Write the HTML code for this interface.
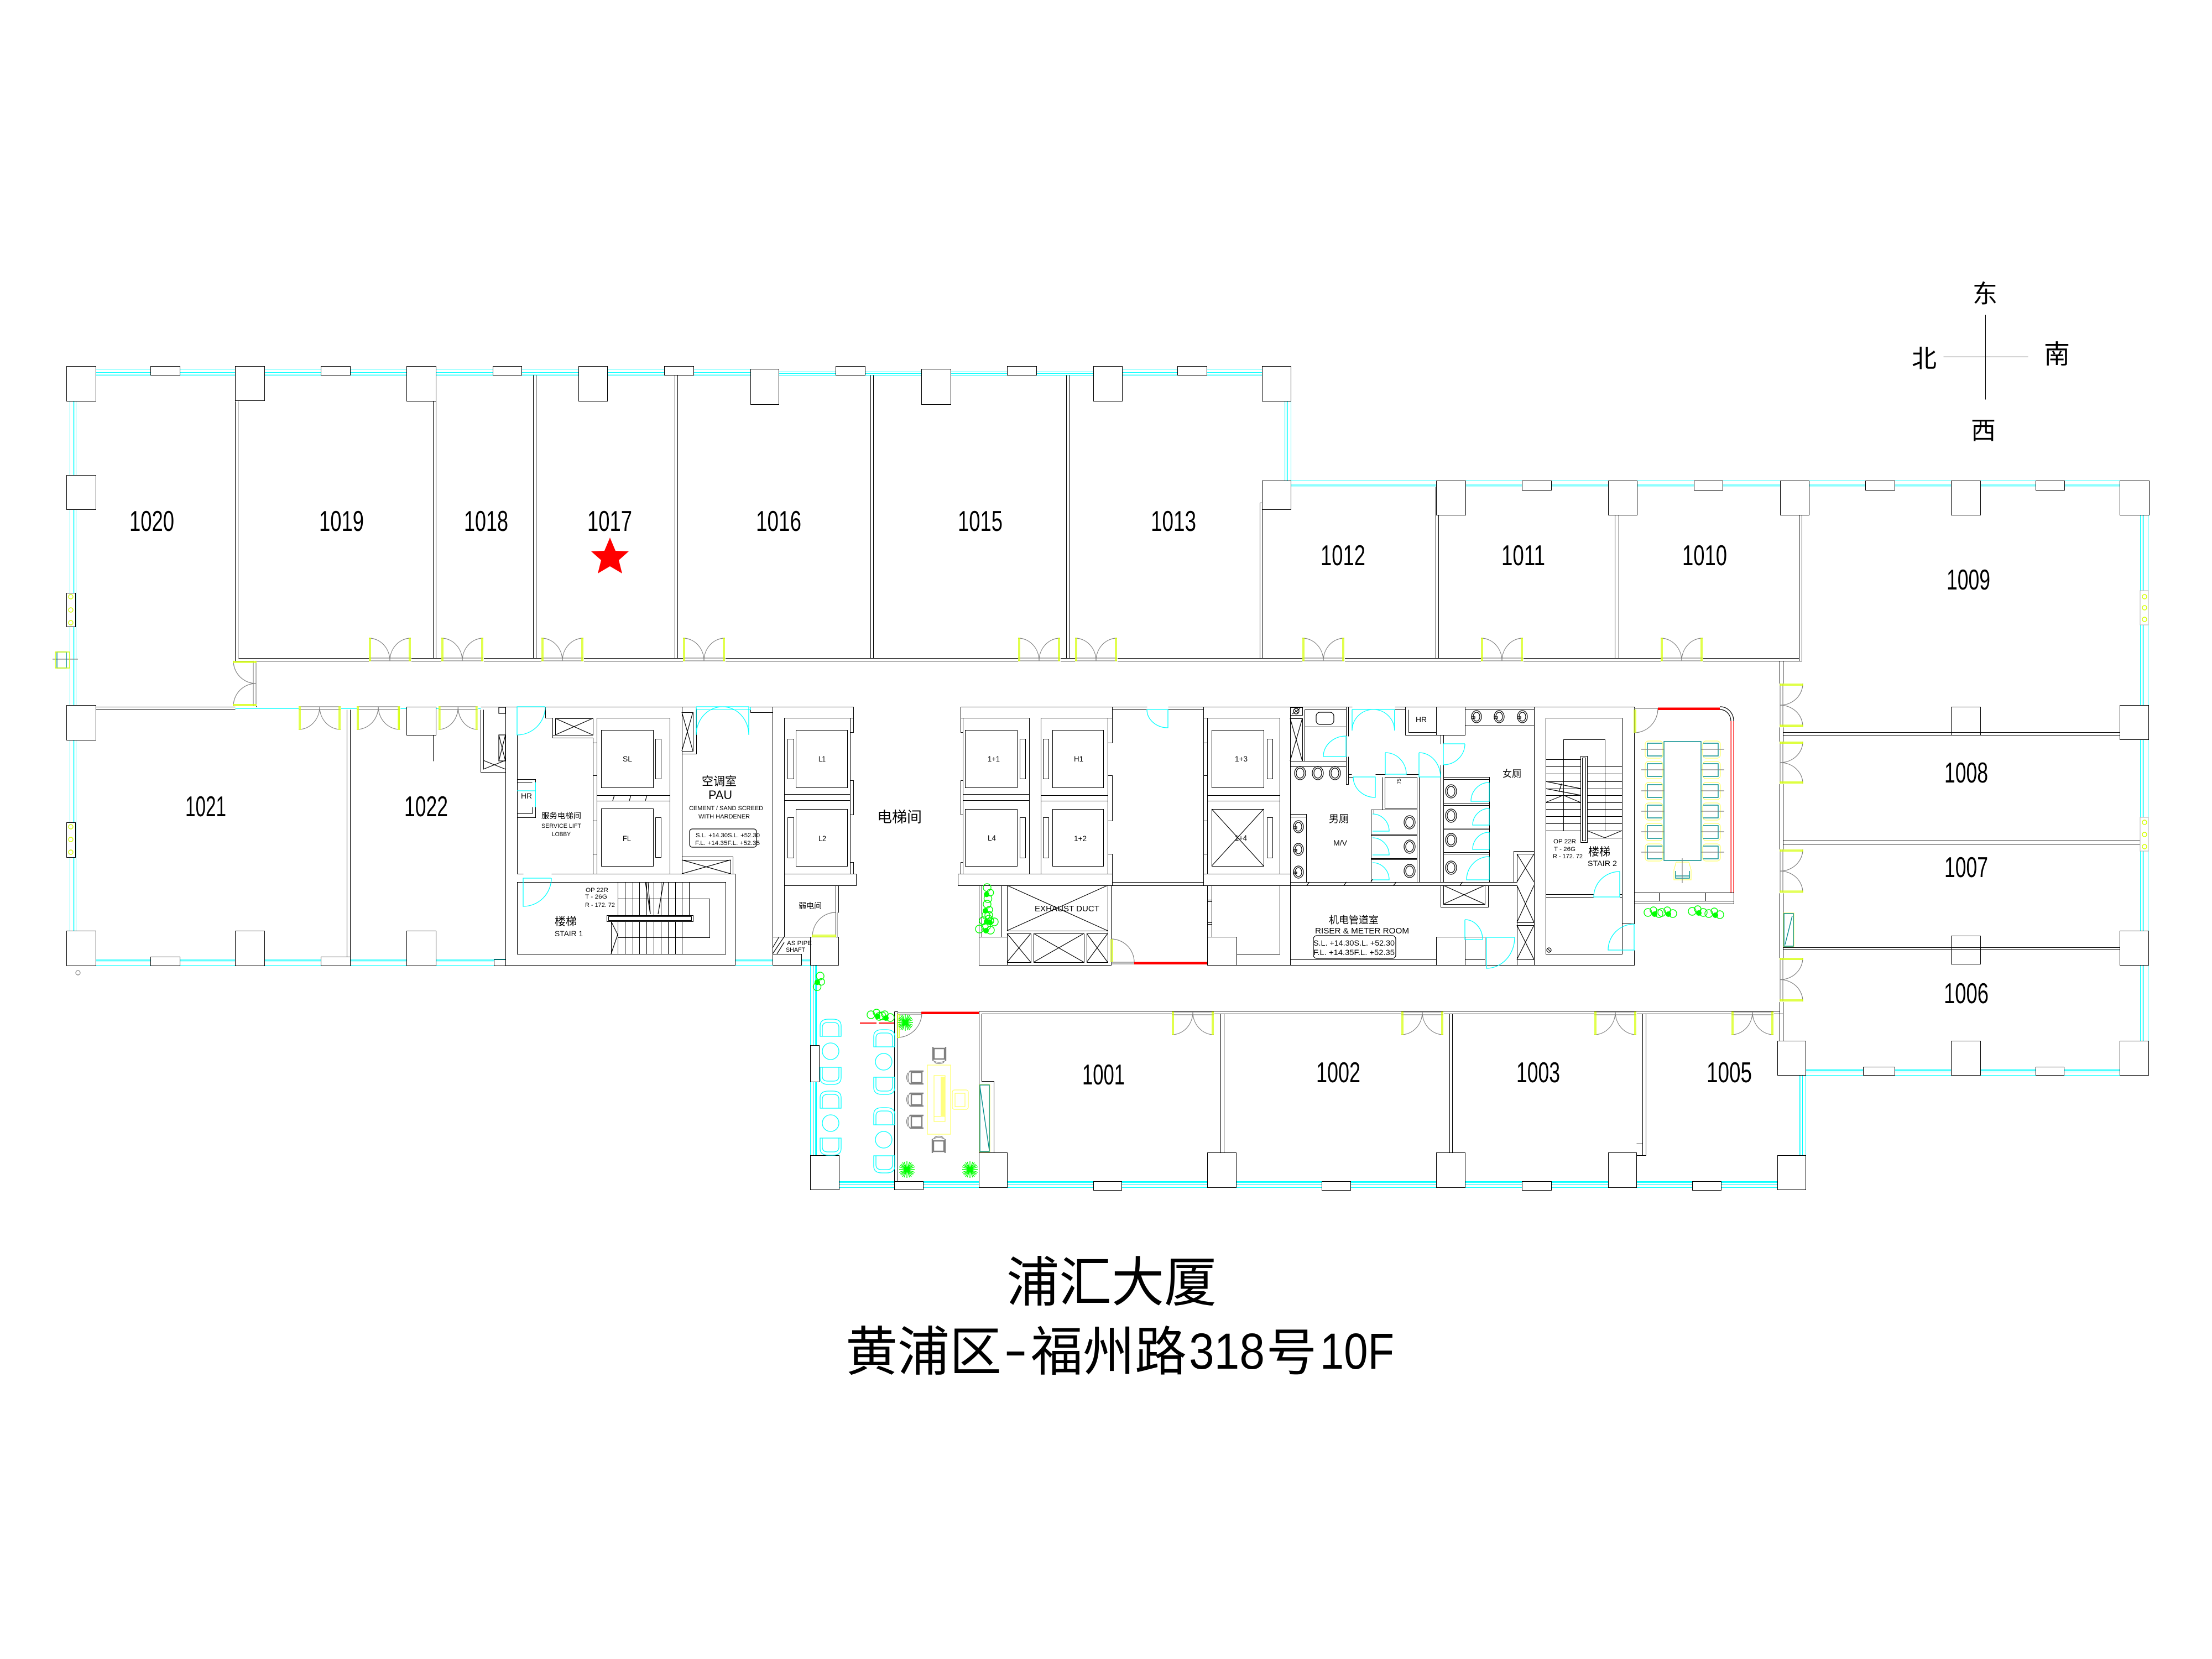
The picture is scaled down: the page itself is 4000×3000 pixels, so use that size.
<!DOCTYPE html>
<html lang="zh"><head><meta charset="utf-8"><title>浦汇大厦 10F</title>
<style>
html,body{margin:0;padding:0;background:#fff}
svg{display:block}
svg *{vector-effect:non-scaling-stroke}
.k{fill:none;stroke:#000;stroke-width:1;shape-rendering:crispEdges;transform:translate(.5px,.5px)}
.a{fill:none;stroke:#000;stroke-width:1.2}
.w{fill:#fff;stroke:#000;stroke-width:1;shape-rendering:crispEdges;transform:translate(.5px,.5px)}
.c{fill:none;stroke:#00ffff;stroke-width:1;shape-rendering:crispEdges;transform:translate(.5px,.5px)}
.ca{fill:none;stroke:#00ffff;stroke-width:1.3}
.g{fill:none;stroke:#808080;stroke-width:1.2}
.y{fill:none;stroke:#d4ff00;stroke-width:1.4}
.yy{fill:none;stroke:#ffff66;stroke-width:1.2}
.t{fill:none;stroke:#008b8b;stroke-width:1.4}
.r{fill:none;stroke:#ff0000;stroke-width:1.5;shape-rendering:crispEdges}
.p{fill:none;stroke:#00ff00;stroke-width:1.4}
text{font-family:"Liberation Sans","WenQuanYi Zen Hei","Noto Sans CJK SC",sans-serif;fill:#000;stroke:none}
.n{font-size:52px}
.cj{font-family:"WenQuanYi Zen Hei","Noto Sans CJK SC",sans-serif}
</style></head><body>
<svg xmlns="http://www.w3.org/2000/svg" width="4000" height="3000" viewBox="0 0 4000 3000">
<defs>
<g id="d"><rect x="0" y="-6" width="77" height="7" fill="#fff"/><path class="g" d="M0 0H76M0-5H76M0-41A38 41 0 0 1 38 0M76-41A38 41 0 0 0 38 0"/><path class="y" d="M1-41H3V0H1ZM73-41H75V0H73Z"/></g>
<g id="dc"><rect x="0" y="-3" width="77" height="4" fill="#fff"/><path class="ca" d="M0 0H76M0 0V-41A38 41 0 0 0 38 0M76 0V-41A38 41 0 0 1 38 0"/></g>
<g id="ch"><path class="ca" d="M0 31V12Q0 0 15 0H23Q38 0 38 12V31ZM4 31V15Q4 6 14 6H24Q34 6 34 15V31"/></g>
<g id="gc"><path fill="none" stroke="#808080" stroke-width="2.4" d="M5 6H24V25H5ZM2 4H27M2 27H27"/><path class="g" d="M2 4Q-4 15 2 27M-1 7Q-6 15-1 24"/></g>
<g id="mc"><rect class="yy" x="0" y="0" width="32" height="31" rx="6"/><path class="t" d="M31 4H4V27H31"/><path class="g" d="M-7 15H35"/></g>
<g id="to"><ellipse class="a" cx="0" cy="0" rx="10" ry="12"/><ellipse class="a" cx="0" cy="0" rx="7" ry="9"/></g>
<g id="si"><ellipse class="a" cx="0" cy="0" rx="9" ry="11"/><ellipse class="a" cx="0" cy="0" rx="6" ry="8"/><path class="a" d="M-9 0H-3V3H-9Z"/></g>
<g id="sp"><path class="p" d="M-14 0H14M0-15V15M-10-10L10 10M-10 10L10-10M-14-5L14 5M-14 5L14-5M-5-14L5 14M5-14L-5 14M-12-8L12 8M-12 8L12-8M-8-13L8 13M8-13L-8 13"/><circle cx="0" cy="0" r="5" fill="#00ff00"/></g>
<g id="pc"><circle class="p" cx="0" cy="0" r="7"/><circle class="p" cx="10" cy="-4" r="6"/><circle class="p" cx="20" cy="2" r="7"/><circle cx="12" cy="3" r="5" fill="#00ff00"/></g>
</defs>

<!-- glass -->
<path class="c" d="M120 667H1357M120 673H1357M120 676H1357M120 678H1357M1408 672H1977M1408 675H1977M1408 678H1977M1977 667H2334M1977 673H2334M1977 676H2334M1977 678H2334
M126 725V1683M132 725V1683M135 725V1683M137 725V1683
M2323 725V869M2325 725V869M2328 725V869M2334 725V869
M2334 869H3833M2334 875H3833M2334 878H3833M2334 880H3833
M3870 931V1882M3873 931V1882M3876 931V1882M3884 931V1882
M3265 1933H3833M3265 1935H3833M3265 1938H3833M3265 1944H3833
M3254 1944V2089M3256 1944V2089M3259 1944V2089M3265 1944V2089
M1517 2136H3214M1517 2138H3214M1517 2141H3214M1517 2147H3214
M1465 1745V2089M1471 1745V2089M1474 1745V2089M1476 1745V2089
M173 1734H914M173 1736H914M173 1739H914M173 1745H914M1329 1734H1397M1329 1736H1397M1329 1739H1397M1329 1745H1397M1449 1734H1465M1449 1736H1465M1449 1739H1465M1449 1745H1465
M425 1281H735M788 1281H869M1072 1343H1079V1402H1072ZM1072 1484H1079V1544H1072ZM874 1290V1375"/>

<!-- columns and window piers -->
<path class="w" d="M120 662h53v63h-53zM425 662h53v62h-53zM735 662h53v63h-53zM1046 662h52v63h-52zM1357 667h51v64h-51zM1666 667h53v64h-53zM1977 662h52v63h-52zM2282 662h52v63h-52z
M272 662h53v16h-53zM580 662h53v16h-53zM891 662h52v16h-52zM1201 662h53v16h-53zM1511 662h53v16h-53zM1821 662h53v16h-53zM2129 662h53v16h-53z
M120 859h53v62h-53zM120 1275h53v63h-53zM120 1683h53v63h-53zM425 1683h53v63h-53zM735 1683h53v63h-53zM735 1278h53v51h-53z
M272 1730h53v16h-53zM580 1730h53v16h-53zM893 1735h21v11h-21z
M120 1072h16v61h-16zM120 1487h16v63h-16z
M2282 869h52v52h-52zM2597 869h53v62h-53zM2908 869h52v62h-52zM3219 869h52v62h-52zM3528 869h53v62h-53zM3833 869h53v62h-53z
M2752 869h53v17h-53zM3063 869h52v17h-52zM3373 869h53v17h-53zM3681 869h52v17h-52z
M3833 1275h52v62h-52zM3528 1278h53v51h-53zM3833 1683h52v62h-52zM3528 1692h53v51h-53z
M3214 1882h51v62h-51zM3528 1882h53v62h-53zM3833 1882h52v62h-52zM3369 1929h57v15h-57zM3681 1929h51v15h-51z
M3214 2089h51v62h-51zM3060 2136h52v16h-52zM2908 2084h51v63h-51zM2752 2136h53v16h-53zM2597 2084h52v63h-52zM2390 2136h52v16h-52zM2183 2084h52v63h-52zM1977 2136h51v16h-51zM1770 2084h51v63h-51zM1617 2136h52v15h-52zM1465 2089h52v62h-52zM1465 1890h16v66h-16z"/>

<!-- walls -->
<path class="k" d="M431 1190H3253M425 1195H3258
M425 725V1195M430 725V1190M783 725V1190M788 725V1190M964 678V1190M969 678V1190M1220 678V1190M1225 678V1190M1574 678V1190M1579 678V1190M1928 678V1190M1934 678V1190M2278 909V1190M2283 921V1190M2278 909H2282M2596 880V1190M2601 931V1190M2920 931V1190M2927 931V1190M3253 931V1195M3258 931V1195
M463 1195V1278M173 1278H425M173 1283H425M627 1283V1730M633 1283V1730M783 1329V1376
M3218 1195V1882M3224 1195V1882M3224 1324H3833M3224 1329H3833M3224 1520H3871M3224 1526H3871M3224 1713H3833M3224 1717H3833
M1770 1828H3218M1775 1833H3224M1770 1828V2084M1775 1833V1955H1797V2084M2207 1833V2084M2213 1833V2084M2621 1833V2084M2626 1833V2084M2970 1833V2089M2976 1833V2089H2959M2959 2068H2970
M1617 1829V2136M1623 1829V2136M1617 1829H1623
M869 1283V1396H914M874 1283V1391M869 1278H914
M914 1278H1543V1298H1537M914 1278V1745M914 1745H1329V1580H997M935 1329V1580H946M986 1278V1298H999V1334H1072V1580M1004 1299H1072V1329H1004ZM999 1329H1004
M1233 1278V1580M1397 1278V1745M1357 1278V1288H1397M1233 1288H1253V1358H1233M1233 1363H1259V1278M1233 1549H1325V1580M1233 1555H1321V1580
M935 1595H1312V1725H935ZM1117 1625H1283V1695H1117M935 1409H968V1414M935 1414H962M968 1440V1409M968 1459V1478H935M935 1471H962V1459
M1079 1298H1211V1580H1079ZM1079 1438H1211M1079 1448H1211M1087 1320h94v104h-94zM1185 1336h10v72h-10zM1087 1462h94v104h-94zM1185 1478h10v72h-10z
M1072 1343H1079M1072 1402H1079M1072 1484H1079M1072 1544H1079
M1418 1298H1537V1580H1418ZM1418 1436H1537M1418 1447H1537M1439 1320h93v104h-93zM1424 1336h11v72h-11zM1439 1463h93v103h-93zM1424 1478h11v73h-11zM1537 1298h6v26h-6zM1537 1411h6v62h-6zM1537 1559h6v21h-6zM1418 1580h130v21h-130z
M1418 1601V1694H1465M1397 1694H1465M1511 1601V1650M1516 1601V1650M1397 1725H1449V1745H1397M1465 1694h51v51h-51z
M1737 1278H2074M2112 1278H2333M2011 1283H2074M2112 1283H2176M1737 1278V1298H1741M2011 1278V1298
M1741 1298h120v282h-120zM1741 1436H1861M1741 1447H1861M1745 1320h94v104h-94zM1844 1336h10v72h-10zM1745 1463h94v103h-94zM1844 1478h10v73h-10z
M1882 1298h121v282h-121zM1882 1438H2003M1882 1448H2003M1903 1320h92v104h-92zM1886 1336h10v72h-10zM1903 1463h92v103h-92zM1886 1478h10v73h-10z
M2003 1298h8v45h-8zM2003 1402h8v82h-8zM2003 1544h8v36h-8zM1737 1298h4v26h-4zM1737 1411h4v62h-4zM1737 1559h4v21h-4z
M1732 1580h279v21h-279zM2011 1595H2176M2011 1601H2176
M2176 1278V1601M2176 1298h7v45h-7zM2176 1402h7v82h-7zM2176 1544h7v36h-7zM2183 1298h131v282h-131zM2183 1438H2314M2183 1448H2314M2191 1320h94v104h-94zM2291 1336h10v72h-10zM2191 1463h94v103h-94zM2291 1478h10v73h-10zM2176 1580H2333M2176 1601H2333M2333 1278V1745
M1770 1601V1745H2009V1601M1775 1601V1694M1811 1601V1694M1770 1694h51v51h-51zM1821 1601h182v82h-182zM1821 1688h43v52h-43zM1869 1688h91v52h-91zM1965 1688h38v52h-38zM2003 1601V1740
M2183 1601V1694M2191 1601V1694M2183 1627H2191M2183 1630H2191M2183 1668H2191M2183 1671H2191M2183 1694h53v51h-53zM2236 1725H2314V1601H2191M2236 1745H2774
M2333 1293H2355V1279H2333M2333 1299H2355V1376H2333M2359 1283H2434V1376H2359ZM2359 1314H2434M2333 1376H2434M2333 1386H2434M2434 1278V1331M2438 1278V1331M2434 1368V1418H2438V1368
M2333 1278H2445M2522 1278H2597M2649 1278H2774M2522 1283H2541M2649 1283H2774M2541 1278V1329H2597M2547 1283V1324H2597M2597 1278h52v51h-52zM2605 1329V1345M2610 1329V1345M2605 1383V1405M2610 1383V1405M2649 1312H2774M2774 1278V1745
M2438 1405H2447M2487 1400H2505M2438 1400H2444M2543 1400H2566M2504 1405H2562V1461H2504ZM2499 1405V1464H2479V1595M2562 1405V1595M2566 1405V1595M2605 1405V1595M2610 1405V1595
M2484 1464V1472M2479 1464H2562M2479 1508H2562M2479 1510H2562M2479 1552H2562M2479 1554H2562
M2610 1405H2693V1595M2610 1409H2693M2610 1453H2693M2610 1456H2693M2610 1497H2693M2610 1500H2693M2610 1541H2693M2610 1544H2693
M2333 1472H2362V1595M2333 1477H2362M2333 1595H2743M2333 1601H2743
M2605 1601V1640H2691V1601M2610 1601H2685V1635H2610Z
M2333 1735H2597M2597 1694h52v51h-52zM2649 1735H2685V1694M2649 1694H2685V1745H2597
M2737 1595V1539H2774M2743 1595V1544H2774M2743 1601V1745M2743 1668H2774M2743 1673H2774M2743 1735H2774
M2774 1278H2955V1670H2933M2774 1745H2955V1718M2795 1298h138v427h-138zM2795 1617H2882M2795 1622H2882M2929 1617H2933M2929 1622H2933
M2795 1373H2858M2795 1386H2858M2795 1399H2858M2795 1413H2858M2795 1426H2858M2795 1438H2858M2795 1451H2858M2795 1463H2858M2795 1476H2858M2795 1489H2858M2795 1502H2858
M2870 1386H2933M2870 1399H2933M2870 1413H2933M2870 1426H2933M2870 1438H2933M2870 1451H2933M2870 1463H2933M2870 1476H2933M2870 1489H2933M2870 1502H2933M2870 1515H2933
M2858 1367h12v156h-12zM2861 1370h6v150h-6zM2827 1502V1337H2902V1502
M2955 1614H3135V1634H2955ZM2955 1629H3135M3000 1614V1629M3084 1614V1629
M1097 1655h156v11h-156zM1100 1657h150v7h-150z
M1117 1595V1655M1130 1595V1655M1144 1595V1655M1156 1595V1655M1169 1595V1655M1182 1595V1655M1195 1595V1655M1208 1595V1655M1221 1595V1655M1233 1595V1655M1246 1595V1655
M1117 1666V1725M1130 1666V1725M1144 1666V1725M1156 1666V1725M1169 1666V1725M1182 1666V1725M1195 1666V1725M1208 1666V1725M1221 1666V1725M1233 1666V1725M1105 1666V1725"/>
<rect class="a" x="1247" y="1499" width="121" height="33" rx="5"/>
<rect class="a" x="2375" y="1692" width="149" height="41" rx="6"/>
<rect class="a" x="2380" y="1288" width="32" height="22" rx="7"/>
<!-- crosses, hatches -->
<path class="a" d="M1004 1299L1072 1329M1004 1329L1072 1299M902 1279h12v11h-12zM902 1329h12v47h-12zM902 1329L914 1376M914 1329L902 1376M874 1375L914 1391M874 1391L914 1375
M1233 1288L1253 1358M1253 1288L1233 1358M1233 1555L1321 1580M1321 1555L1233 1580
M2191 1463L2285 1566M2285 1463L2191 1566
M1821 1601L2003 1683M2003 1601L1821 1683M1821 1688L1864 1740M1864 1688L1821 1740M1869 1688L1960 1740M1960 1688L1869 1740M1965 1688L2003 1740M2003 1688L1965 1740
M2333 1299L2355 1376M2355 1299L2333 1376M2337 1291L2351 1281M2610 1601L2685 1635M2685 1601L2610 1635
M2743 1544L2774 1595M2774 1544L2743 1595M2743 1601L2774 1668M2774 1601L2743 1668M2743 1673L2774 1735M2774 1673L2743 1735
M1111 1438L1108 1448M1141 1438L1138 1448M1170 1438L1167 1448M1397 1714L1409 1694M1397 1725L1418 1694M1405 1725L1418 1704M1167 1595L1176 1653M1190 1653L1200 1595M1176 1653L1172 1595M1105 1666L1117 1690L1105 1725
M2795 1413L2858 1426M2795 1426L2858 1438M2795 1451L2827 1438L2858 1451M2870 1502L2902 1515L2933 1502M2824 1417L2819 1432
M2479 1595L2482 1590M2363 1601L2368 1595M2430 1601L2435 1595M2520 1601L2525 1595M2640 1601L2645 1595"/>
<circle class="a" cx="2344" cy="1286" r="5"/><circle class="a" cx="2801" cy="1718" r="4"/><path class="a" d="M2341 1283L2347 1289M2798 1715L2804 1721"/>
<circle class="g" cx="141" cy="1759" r="4"/>

<!-- outside fitting, small window fittings -->
<path class="g" d="M95 1192H141"/><rect class="t" x="103" y="1179" width="17" height="29"/><rect class="y" x="100" y="1179" width="26" height="29"/>
<g class="y"><circle cx="128" cy="1079" r="4"/><circle cx="128" cy="1103" r="4"/><circle cx="128" cy="1126" r="4"/><circle cx="128" cy="1495" r="4"/><circle cx="128" cy="1518" r="4"/><circle cx="128" cy="1541" r="4"/></g>
<rect x="3870" y="1068" width="15" height="62" fill="#fff" stroke="#b0b0b0"/><rect x="3870" y="1478" width="15" height="61" fill="#fff" stroke="#b0b0b0"/>
<g class="y"><circle cx="3878" cy="1079" r="4"/><circle cx="3878" cy="1099" r="4"/><circle cx="3878" cy="1120" r="4"/><circle cx="3878" cy="1487" r="4"/><circle cx="3878" cy="1509" r="4"/><circle cx="3878" cy="1531" r="4"/></g>

<!-- double doors -->
<use href="#d" transform="translate(667,1195)"/><use href="#d" transform="translate(798,1195)"/><use href="#d" transform="translate(979,1195)"/><use href="#d" transform="translate(1235,1195)"/><use href="#d" transform="translate(1841,1195)"/><use href="#d" transform="translate(1944,1195)"/><use href="#d" transform="translate(2355,1195)"/><use href="#d" transform="translate(2678,1195)"/><use href="#d" transform="translate(3003,1195)"/>
<use href="#d" transform="translate(540,1278) scale(1,-1)"/><use href="#d" transform="translate(645,1278) scale(1.03,-1)"/><use href="#d" transform="translate(793,1278) scale(.93,-1)"/>
<use href="#d" transform="translate(463,1277) rotate(-90) scale(1.08,1)"/>
<use href="#d" transform="translate(3219,1236) rotate(90) scale(1.03,1)"/><use href="#d" transform="translate(3219,1341) rotate(90)"/><use href="#d" transform="translate(3219,1536) rotate(90) scale(1.03,1)"/><use href="#d" transform="translate(3219,1732) rotate(90) scale(1.04,1)"/>
<use href="#d" transform="translate(2119,1830) scale(1,-1)"/><use href="#d" transform="translate(2534,1830) scale(1,-1)"/><use href="#d" transform="translate(2883,1830) scale(1,-1)"/><use href="#d" transform="translate(3131,1830) scale(1,-1)"/>
<use href="#dc" transform="translate(1259,1278) scale(1.25,-1.24)"/><use href="#dc" transform="translate(2445,1283) scale(1.01,-.93)"/>
<path class="c" d="M1259 1283H1357V1278"/>

<!-- single doors -->
<path class="ca" d="M986 1278H935V1329A51 51 0 0 0 986 1278M997 1588H946V1639A51 51 0 0 0 997 1588
M2074 1283H2112V1316A38 33 0 0 1 2074 1283M2434 1331V1368H2393A41 37 0 0 1 2434 1331M2447 1405H2487V1442A40 37 0 0 1 2447 1405M2505 1361V1400H2543A38 39 0 0 0 2505 1361M2566 1361V1405H2605A39 44 0 0 0 2566 1361M2649 1345H2610V1383A39 38 0 0 0 2649 1345
M2482 1503H2512A30 31 0 0 0 2482 1472M2482 1546H2512A30 31 0 0 0 2482 1515M2482 1591H2512A30 31 0 0 0 2482 1560
M2693 1415V1449H2660A33 34 0 0 1 2693 1415M2693 1462V1492H2663A30 30 0 0 1 2693 1462M2693 1505V1536H2663A30 31 0 0 1 2693 1505M2693 1549V1591H2652A41 42 0 0 1 2693 1549
M2649 1663V1699H2681A32 36 0 0 0 2649 1663M2739 1695H2688V1751A51 56 0 0 0 2739 1695M2929 1576V1622H2882A47 46 0 0 1 2929 1576M2955 1671V1718H2908A47 47 0 0 1 2955 1671
M935 1430H968"/>
<path class="c" d="M968 1414V1459"/>
<path class="g" d="M2955 1281H2998M2955 1325A43 44 0 0 0 2998 1281M2009 1698A42 42 0 0 1 2051 1740M2009 1740H2051M2009 1743H2051M1469 1694A42 44 0 0 1 1511 1650M1511 1650V1694M1514 1650V1694M1623 1831H1667M1623 1834H1667M1623 1876A44 45 0 0 0 1667 1831"/>
<path class="y" d="M2955 1283V1325M2958 1283V1325M2009 1698V1740M2012 1698V1740M1469 1691H1511V1694H1469ZM1623 1834H1626V1876H1623Z"/>
<!-- red -->
<path class="r" d="M2051 1740H2183M2051 1743H2183M2998 1280H3110M2998 1283H3110M3130 1304V1614M3135 1304V1614M1666 1830H1770M1666 1833H1770"/>
<path class="r" style="stroke-width:2" d="M1555 1850H1585M1589 1850H1617M1666 1831.5H1770M2051 1741.5H2183M2998 1281.5H3110"/>
<path class="a" d="M3110 1278A24 26 0 0 1 3135 1304M3110 1283A20 21 0 0 1 3130 1304"/>

<!-- reception furniture -->
<use href="#ch" x="1483" y="1843"/><use href="#ch" x="1580" y="1862"/>
<use href="#ch" transform="translate(1483,1961) scale(1,-1)"/><use href="#ch" x="1483" y="1973"/><use href="#ch" transform="translate(1483,2089) scale(1,-1)"/>
<use href="#ch" transform="translate(1580,1979) scale(1,-1)"/><use href="#ch" x="1580" y="2003"/><use href="#ch" transform="translate(1580,2121) scale(1,-1)"/>
<g class="ca"><circle cx="1502" cy="1901" r="15"/><circle cx="1502" cy="2031" r="15"/><circle cx="1598" cy="1920" r="15"/><circle cx="1598" cy="2061" r="15"/></g>
<rect class="yy" x="1677" y="1926" width="42" height="125"/><rect class="yy" x="1689" y="1945" width="20" height="83"/><rect x="1701" y="1947" width="8" height="71" fill="#ffff80"/><path class="yy" d="M1689 2019H1709"/>
<use href="#gc" x="1643" y="1933"/><use href="#gc" x="1643" y="1973"/><use href="#gc" x="1643" y="2013"/>
<use href="#gc" transform="translate(1683,1920) rotate(-90)"/><use href="#gc" transform="translate(1713,2058) rotate(90)"/>
<rect class="yy" x="1722" y="1971" width="29" height="35" rx="4"/><rect class="yy" x="1727" y="1977" width="18" height="24"/>
<rect class="yy" x="1771" y="1961" width="19" height="122"/><rect class="t" x="1772" y="1962" width="17" height="120"/><path class="t" d="M1772 1965L1789 2080"/>
<rect class="yy" x="3225" y="1651" width="19" height="61"/><rect class="t" x="3226" y="1652" width="17" height="59"/><path class="t" d="M3228 1708L3241 1656"/>

<!-- meeting room -->
<rect class="t" x="3009" y="1341" width="67" height="215"/>
<use href="#mc" x="2975" y="1340"/><use href="#mc" x="2975" y="1377"/><use href="#mc" x="2975" y="1415"/><use href="#mc" x="2975" y="1452"/><use href="#mc" x="2975" y="1489"/><use href="#mc" x="2975" y="1526"/>
<use href="#mc" transform="translate(3111,1340) scale(-1,1)"/><use href="#mc" transform="translate(3111,1377) scale(-1,1)"/><use href="#mc" transform="translate(3111,1415) scale(-1,1)"/><use href="#mc" transform="translate(3111,1452) scale(-1,1)"/><use href="#mc" transform="translate(3111,1489) scale(-1,1)"/><use href="#mc" transform="translate(3111,1526) scale(-1,1)"/>
<path class="yy" d="M3031 1559H3054L3058 1573V1591H3027V1573Z"/><path class="t" d="M3030 1575V1588H3055V1575M3030 1584H3055"/><path class="g" d="M3042 1552V1597"/>

<!-- fixtures -->
<use href="#to" x="2351" y="1398"/><use href="#to" x="2383" y="1398"/><use href="#to" x="2414" y="1398"/>
<use href="#to" x="2549" y="1487"/><use href="#to" x="2549" y="1531"/><use href="#to" x="2549" y="1575"/>
<use href="#to" x="2624" y="1431"/><use href="#to" x="2624" y="1475"/><use href="#to" x="2624" y="1519"/><use href="#to" x="2624" y="1569"/>
<use href="#si" x="2348" y="1495"/><use href="#si" x="2348" y="1536"/><use href="#si" x="2348" y="1577"/>
<use href="#si" x="2670" y="1296"/><use href="#si" x="2711" y="1296"/><use href="#si" x="2753" y="1296"/>

<!-- plants -->
<use href="#sp" x="1637" y="1849"/><use href="#sp" x="1640" y="2115"/><use href="#sp" x="1754" y="2115"/>
<use href="#pc" x="1575" y="1835"/><use href="#pc" x="1590" y="1838"/>
<use href="#pc" transform="translate(1483,1765) rotate(100)"/>
<use href="#pc" transform="translate(1785,1605) rotate(80)"/><use href="#pc" transform="translate(1785,1635) rotate(90)"/><use href="#pc" transform="translate(1788,1655) rotate(95)"/><use href="#pc" x="1771" y="1680"/><use href="#pc" x="1778" y="1665"/>
<use href="#pc" x="2980" y="1650"/><use href="#pc" x="3005" y="1650"/><use href="#pc" x="3060" y="1648"/><use href="#pc" x="3090" y="1652"/>

<!-- star -->
<polygon points="1103,972 1113,996 1137,997 1119,1013 1125,1037 1103,1024 1081,1037 1087,1013 1069,997 1093,996" fill="#ff0000"/>

<!-- compass -->
<path class="k" d="M3590 569V722M3514 645H3667"/>
<text class="cj" x="3567" y="547" font-size="45">东</text>
<text class="cj" x="3696" y="657" font-size="47">南</text>
<text class="cj" x="3457" y="664" font-size="45">北</text>
<text class="cj" x="3564" y="794" font-size="45">西</text>

<!-- room numbers -->
<text class="n" x="234" y="960" textLength="81" lengthAdjust="spacingAndGlyphs">1020</text>
<text class="n" x="577" y="960" textLength="81" lengthAdjust="spacingAndGlyphs">1019</text>
<text class="n" x="839" y="960" textLength="80" lengthAdjust="spacingAndGlyphs">1018</text>
<text class="n" x="1062" y="960" textLength="81" lengthAdjust="spacingAndGlyphs">1017</text>
<text class="n" x="1367" y="960" textLength="82" lengthAdjust="spacingAndGlyphs">1016</text>
<text class="n" x="1732" y="960" textLength="81" lengthAdjust="spacingAndGlyphs">1015</text>
<text class="n" x="2081" y="960" textLength="82" lengthAdjust="spacingAndGlyphs">1013</text>
<text class="n" x="2388" y="1022" textLength="81" lengthAdjust="spacingAndGlyphs">1012</text>
<text class="n" x="2715" y="1022" textLength="79" lengthAdjust="spacingAndGlyphs">1011</text>
<text class="n" x="3042" y="1022" textLength="81" lengthAdjust="spacingAndGlyphs">1010</text>
<text class="n" x="3520" y="1066" textLength="79" lengthAdjust="spacingAndGlyphs">1009</text>
<text class="n" x="3516" y="1415" textLength="79" lengthAdjust="spacingAndGlyphs">1008</text>
<text class="n" x="3516" y="1586" textLength="79" lengthAdjust="spacingAndGlyphs">1007</text>
<text class="n" x="3515" y="1814" textLength="81" lengthAdjust="spacingAndGlyphs">1006</text>
<text class="n" x="3086" y="1957" textLength="82" lengthAdjust="spacingAndGlyphs">1005</text>
<text class="n" x="2742" y="1957" textLength="79" lengthAdjust="spacingAndGlyphs">1003</text>
<text class="n" x="2380" y="1957" textLength="80" lengthAdjust="spacingAndGlyphs">1002</text>
<text class="n" x="1957" y="1961" textLength="77" lengthAdjust="spacingAndGlyphs">1001</text>
<text class="n" x="335" y="1476" textLength="74" lengthAdjust="spacingAndGlyphs">1021</text>
<text class="n" x="731" y="1476" textLength="79" lengthAdjust="spacingAndGlyphs">1022</text>

<!-- small labels -->
<g font-size="14">
<text x="1126" y="1377" textLength="17" lengthAdjust="spacingAndGlyphs">SL</text>
<text x="1126" y="1521" textLength="15" lengthAdjust="spacingAndGlyphs">FL</text>
<text x="1480" y="1377" textLength="13" lengthAdjust="spacingAndGlyphs">L1</text>
<text x="1480" y="1521" textLength="14" lengthAdjust="spacingAndGlyphs">L2</text>
<text x="942" y="1444" textLength="20" lengthAdjust="spacingAndGlyphs">HR</text>
<text x="1786" y="1377" textLength="22" lengthAdjust="spacingAndGlyphs">1+1</text>
<text x="1942" y="1377" textLength="17" lengthAdjust="spacingAndGlyphs">H1</text>
<text x="2233" y="1377" textLength="23" lengthAdjust="spacingAndGlyphs">1+3</text>
<text x="1786" y="1520" textLength="15" lengthAdjust="spacingAndGlyphs">L4</text>
<text x="1942" y="1521" textLength="23" lengthAdjust="spacingAndGlyphs">1+2</text>
<text x="2233" y="1520" textLength="22" lengthAdjust="spacingAndGlyphs">1+4</text>
<text x="2560" y="1306" textLength="20" lengthAdjust="spacingAndGlyphs">HR</text>
<text x="2411" y="1529" textLength="25" lengthAdjust="spacingAndGlyphs">M/V</text>
<text x="1003" y="1693" textLength="51" lengthAdjust="spacingAndGlyphs">STAIR 1</text>
<text x="2871" y="1566" textLength="53" lengthAdjust="spacingAndGlyphs">STAIR 2</text>
<text x="1871" y="1648" font-size="15" textLength="117" lengthAdjust="spacingAndGlyphs">EXHAUST  DUCT</text>
<text x="2378" y="1688" font-size="15" textLength="170" lengthAdjust="spacingAndGlyphs">RISER &amp; METER ROOM</text>
<text x="2375" y="1710" textLength="147" lengthAdjust="spacingAndGlyphs">S.L. +14.30S.L. +52.30</text>
<text x="2375" y="1727" textLength="147" lengthAdjust="spacingAndGlyphs">F.L. +14.35F.L. +52.35</text>
</g>
<g font-size="11">
<text x="979" y="1497" textLength="72" lengthAdjust="spacingAndGlyphs">SERVICE LIFT</text>
<text x="998" y="1512" textLength="34" lengthAdjust="spacingAndGlyphs">LOBBY</text>
<text x="1059" y="1613" textLength="41" lengthAdjust="spacingAndGlyphs">OP 22R</text>
<text x="1058" y="1625" textLength="40" lengthAdjust="spacingAndGlyphs">T - 26G</text>
<text x="1058" y="1640" textLength="54" lengthAdjust="spacingAndGlyphs">R - 172. 72</text>
<text x="1246" y="1465" textLength="134" lengthAdjust="spacingAndGlyphs">CEMENT / SAND SCREED</text>
<text x="1263" y="1480" textLength="93" lengthAdjust="spacingAndGlyphs">WITH  HARDENER</text>
<text x="1258" y="1514" textLength="116" lengthAdjust="spacingAndGlyphs">S.L. +14.30S.L. +52.30</text>
<text x="1257" y="1528" textLength="117" lengthAdjust="spacingAndGlyphs">F.L. +14.35F.L. +52.35</text>
<text x="1423" y="1709" textLength="45" lengthAdjust="spacingAndGlyphs">AS PIPE</text>
<text x="1421" y="1721" textLength="35" lengthAdjust="spacingAndGlyphs">SHAFT</text>
<text x="2809" y="1525" textLength="41" lengthAdjust="spacingAndGlyphs">OP 22R</text>
<text x="2810" y="1539" textLength="39" lengthAdjust="spacingAndGlyphs">T - 26G</text>
<text x="2808" y="1552" textLength="54" lengthAdjust="spacingAndGlyphs">R - 172. 72</text>
<text transform="translate(2533,1418) rotate(-90)" font-size="9">75</text>
</g>
<text x="1281" y="1445" font-size="22" textLength="43" lengthAdjust="spacingAndGlyphs">PAU</text>
<text class="cj" x="979" y="1480" font-size="14" textLength="72" lengthAdjust="spacingAndGlyphs">服务电梯间</text>
<text class="cj" x="1003" y="1673" font-size="20">楼梯</text>
<text class="cj" x="1269" y="1420" font-size="21">空调室</text>
<text class="cj" x="1444" y="1643" font-size="14">弱电间</text>
<text class="cj" x="1586" y="1487" font-size="27">电梯间</text>
<text class="cj" x="2403" y="1487" font-size="18">男厕</text>
<text class="cj" x="2717" y="1405" font-size="17">女厕</text>
<text class="cj" x="2403" y="1670" font-size="18">机电管道室</text>
<text class="cj" x="2872" y="1547" font-size="20">楼梯</text>

<!-- title -->
<text class="cj" x="1820" y="2353" font-size="97" textLength="380" lengthAdjust="spacingAndGlyphs">浦汇大厦</text>
<text class="cj" x="1529" y="2478" font-size="96" textLength="282" lengthAdjust="spacingAndGlyphs">黄浦区</text>
<text x="1815" y="2472" font-size="92" textLength="43" lengthAdjust="spacingAndGlyphs">-</text>
<text class="cj" x="1864" y="2478" font-size="96" textLength="282" lengthAdjust="spacingAndGlyphs">福州路</text>
<text x="2150" y="2475" font-size="92" textLength="137" lengthAdjust="spacingAndGlyphs">318</text>
<text class="cj" x="2290" y="2478" font-size="92" textLength="91" lengthAdjust="spacingAndGlyphs">号</text>
<text x="2387" y="2475" font-size="92" textLength="134" lengthAdjust="spacingAndGlyphs">10F</text>
</svg>
</body></html>
